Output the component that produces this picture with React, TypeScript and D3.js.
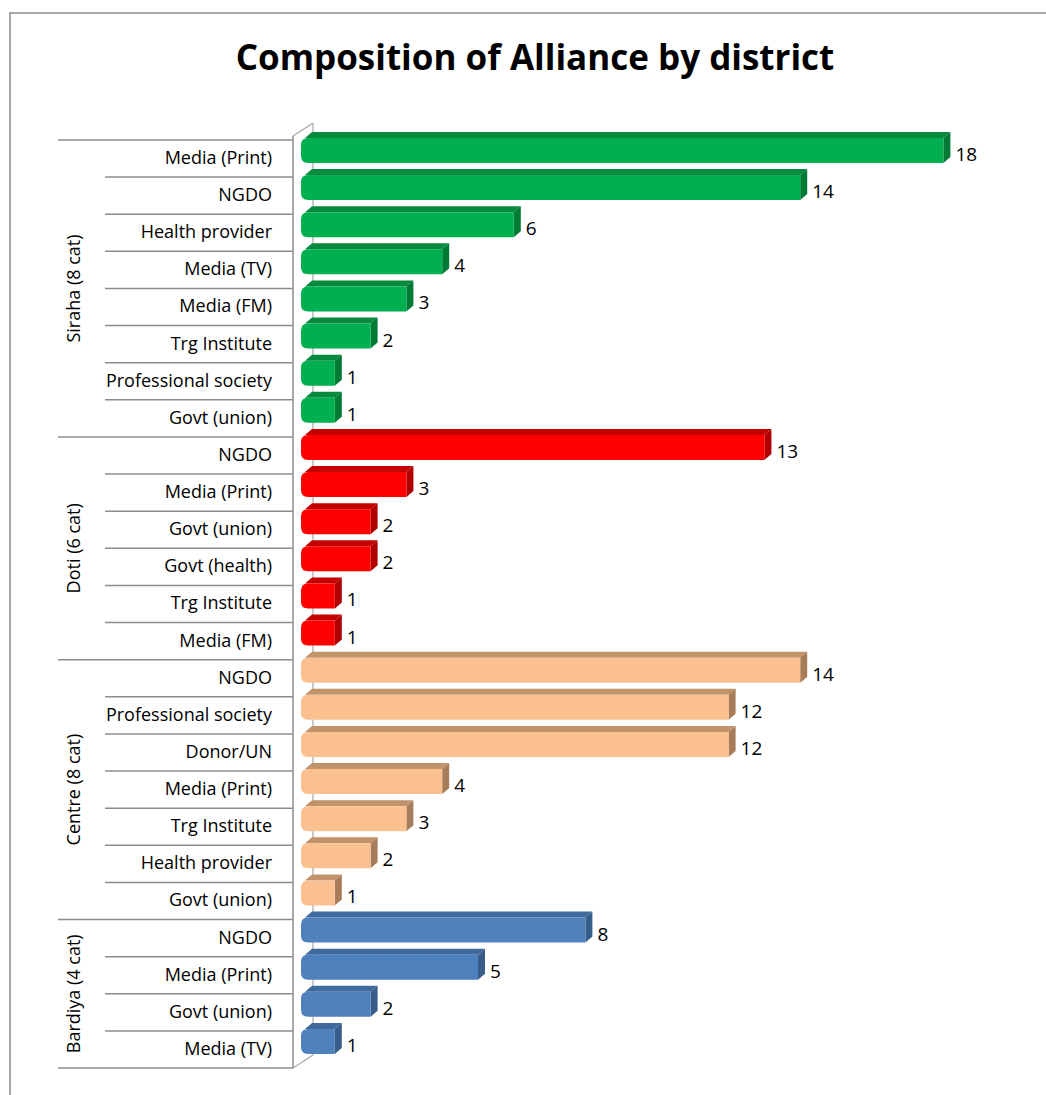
import React from "react";
import * as d3 from "d3";

const title = "Composition of Alliance by district";
const groupNames = ["Siraha (8 cat)", "Doti (6 cat)", "Centre (8 cat)", "Bardiya (4 cat)"];
const sirahaCats = ["Media (Print)", "NGDO", "Health provider", "Media (TV)", "Media (FM)", "Trg Institute", "Professional society", "Govt (union)"];
const sirahaValues = [18, 14, 6, 4, 3, 2, 1, 1];
const dotiCats = ["NGDO", "Media (Print)", "Govt (union)", "Govt (health)", "Trg Institute", "Media (FM)"];
const dotiValues = [13, 3, 2, 2, 1, 1];
const centreCats = ["NGDO", "Professional society", "Donor/UN", "Media (Print)", "Trg Institute", "Health provider", "Govt (union)"];
const centreValues = [14, 12, 12, 4, 3, 2, 1];
const bardiyaCats = ["NGDO", "Media (Print)", "Govt (union)", "Media (TV)"];
const bardiyaValues = [8, 5, 2, 1];

const palettes = [
  { front: "#00B050", top: "#078A3E", side: "#007A34" },
  { front: "#FF0000", top: "#C40000", side: "#B00000" },
  { front: "#FAC090", top: "#C2926A", side: "#A87C58" },
  { front: "#4F81BD", top: "#3F6A9E", side: "#385D8A" },
];

const groupCats = [sirahaCats, dotiCats, centreCats, bardiyaCats];
const groupVals = [sirahaValues, dotiValues, centreValues, bardiyaValues];

type Row = { key: string; group: number; cat: string; value: number; first: boolean };
const rows: Row[] = [];
groupCats.forEach((cats, g) => {
  cats.forEach((c, i) => rows.push({ key: `${g}-${i}`, group: g, cat: c, value: groupVals[g][i], first: i === 0 }));
});

const W = 1046;
const H = 1095;
const font = "'Open Sans', sans-serif";

export default function App() {
  const x = d3.scaleLinear().domain([0, 20]).range([299, 1015]);
  const y = d3.scaleBand<string>().domain(rows.map((r) => r.key)).range([140, 1068]).padding(0);
  const bw = y.bandwidth();
  const axisX = 293;
  const backX = 313;
  const depthX = 7;
  const depthY = 6;
  const barH = 25;
  const r = 7;

  const groupRanges = groupNames.map((_, g) => {
    const gr = rows.filter((row) => row.group === g);
    const top = y(gr[0].key)!;
    const bottom = y(gr[gr.length - 1].key)! + bw;
    return { top, bottom };
  });

  return (
    <div style={{ position: "absolute", left: 0, top: 0 }}>
      <svg width={W} height={H} style={{ display: "block", background: "#fff" }}>
        <rect x={10} y={13} width={1200} height={1200} fill="#fff" stroke="#8c8c8c" strokeWidth={1.5} />
        <text x={535} y={70} textAnchor="middle" fontFamily={font} fontWeight="bold" fontSize={35} fill="#000">
          {title}
        </text>

        {/* 3D wall lines */}
        <g stroke="#a6a6a6" strokeWidth={1.2} fill="none">
          <line x1={backX} y1={123} x2={backX} y2={1055} />
          <line x1={axisX} y1={136} x2={backX} y2={123} />
          <line x1={axisX} y1={1068} x2={backX} y2={1055} />
        </g>

        {/* bars */}
        {rows.map((row) => {
          const p = palettes[row.group];
          const x0 = x(0) + 2;
          const x1 = x(row.value);
          const y0 = y(row.key)! - 2;
          const front = `M${x0 + r},${y0} H${x1} V${y0 + barH} H${x0 + r} Q${x0},${y0 + barH} ${x0},${y0 + barH - r} V${y0 + r} Q${x0},${y0} ${x0 + r},${y0} Z`;
          const top = `M${x0 + 4},${y0} L${x1},${y0} L${x1 + depthX},${y0 - depthY} L${x0 + 4 + depthX},${y0 - depthY} Z`;
          const side = `M${x1},${y0} L${x1 + depthX},${y0 - depthY} L${x1 + depthX},${y0 + barH - depthY} L${x1},${y0 + barH} Z`;
          return (
            <g key={row.key}>
              <path d={top} fill={p.top} />
              <path d={side} fill={p.side} />
              <path d={front} fill={p.front} />
              <text x={x1 + 12} y={y0 + 23} fontFamily={font} fontSize={19} fill="#000">
                {row.value}
              </text>
            </g>
          );
        })}

        {/* category axis */}
        <g stroke="#8c8c8c" strokeWidth={1.5}>
          <line x1={axisX} y1={136} x2={axisX} y2={1068} />
          <line x1={58} y1={y(rows[0].key)!} x2={axisX} y2={y(rows[0].key)!} />
          {rows.map((row, i) => {
            const yb = y(row.key)! + bw;
            const last = i === rows.length - 1 || rows[i + 1].group !== row.group;
            return <line key={row.key} x1={last ? 58 : 105} y1={yb} x2={axisX} y2={yb} />;
          })}
        </g>
        {rows.map((row) => (
          <text key={row.key} x={272} y={y(row.key)! + 24} textAnchor="end" fontFamily={font} fontSize={18} fill="#000">
            {row.cat}
          </text>
        ))}
        {groupNames.map((g, i) => {
          const cy = (groupRanges[i].top + groupRanges[i].bottom) / 2;
          return (
            <text key={g} transform={`translate(80,${cy}) rotate(-90)`} textAnchor="middle" fontFamily={font} fontSize={18} fill="#000">
              {g}
            </text>
          );
        })}
      </svg>
    </div>
  );
}
